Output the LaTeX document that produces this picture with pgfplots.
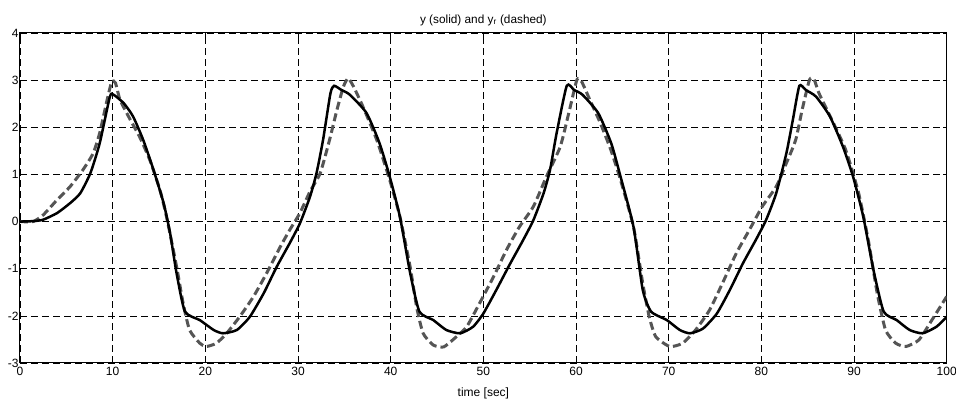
\documentclass[border=0pt]{standalone}
\usepackage{pgfplots}
\pgfplotsset{compat=1.18}
\usepackage{fontspec}
\setmainfont{Liberation Sans}
\definecolor{refgray}{RGB}{85,85,85}
\begin{document}
\begin{tikzpicture}
\begin{axis}[
  scale only axis,
  width=926.7pt, height=330pt,
  xmin=0, xmax=100, ymin=-3, ymax=4,
  xtick={0,10,...,100}, ytick={-3,-2,...,4},
  tick align=inside, major tick length=4pt,
  tick style={black, line width=0.6pt},
  axis line style={black, line width=1pt},
  grid=major,
  major grid style={black, line width=0.7pt, dash pattern=on 7pt off 4pt},
  tick label style={font=\fontsize{12}{13}\selectfont},
  /pgf/number format/assume math mode=true,
  xticklabel style={yshift=-0.5pt},
  yticklabel style={xshift=2pt},
  title={y (solid) and y\textsubscript{r} (dashed)},
  title style={font=\fontsize{11.8}{13}\selectfont, yshift=-2pt},
  xlabel={time [sec]},
  xlabel style={font=\fontsize{12}{13}\selectfont, yshift=-5pt},
  clip=true,
]
\addplot[refgray, line width=3pt, dash pattern=on 8pt off 4pt, smooth, tension=0.35] coordinates {
(0,0) (1.4,0) (2.5,0.14) (4.0,0.46) (5.4,0.74) (6.8,1.10) (7.9,1.45) (8.6,1.88) (9.4,2.58) (9.9,2.97) (10.3,2.94) (10.8,2.58) (11.9,2.16) (12.9,1.80) (14.0,1.31) (15.1,0.67) (15.8,0.11) (16.9,-0.96) (17.6,-1.73) (18.3,-2.30) (19.4,-2.58) (20.1,-2.65) (21.2,-2.58) (22.3,-2.37) (23.7,-2.02) (25.2,-1.59) (26.6,-1.10) (28.1,-0.53) (29.1,-0.18) (30.2,0.18) (31.3,0.64) (32.4,1.03) (33.4,1.73) (34.2,2.37) (34.9,2.86) (35.4,3.04) (36.0,2.86) (37.0,2.44) (38.5,1.73) (39.9,0.88) (41.0,0.10) (42.1,-0.96) (42.8,-1.81) (43.5,-2.37) (44.6,-2.62) (45.7,-2.66) (46.7,-2.51) (48.2,-2.23) (49.6,-1.73) (51.1,-1.17) (52.5,-0.60) (53.9,-0.11) (55.4,0.32) (56.8,0.95) (58.3,1.59) (59.3,2.37) (60.1,3.01) (60.6,2.97) (61.5,2.58) (62.6,2.10) (63.7,1.55) (64.7,0.95) (66.2,-0.11) (67.2,-1.31) (67.9,-2.02) (68.6,-2.44) (70.1,-2.65) (71.5,-2.58) (72.9,-2.30) (74.4,-1.88) (75.8,-1.31) (77.3,-0.67) (78.7,-0.18) (80.1,0.32) (81.6,0.74) (82.7,1.24) (83.7,1.73) (84.4,2.37) (85.2,3.01) (85.7,3.01) (86.2,2.73) (87.6,2.16) (89.1,1.52) (90.5,0.60) (91.6,-0.46) (92.5,-1.52) (93.4,-2.30) (94.5,-2.58) (95.6,-2.65) (97.0,-2.51) (98.4,-2.09) (100,-1.59)
};
\addplot[black, line width=2.5pt, smooth, tension=0.35] coordinates {
(0,0) (1.5,0.01) (2.5,0.04) (4.0,0.18) (5.4,0.39) (6.5,0.6) (7.6,1.03) (8.6,1.66) (9.7,2.65) (10.1,2.69) (11.2,2.51) (12.2,2.23) (13.3,1.73) (14.4,1.10) (15.5,0.39) (16.2,-0.25) (16.9,-1.10) (17.8,-1.91) (19.4,-2.09) (20.9,-2.30) (21.9,-2.37) (23.4,-2.30) (24.8,-2.02) (26.3,-1.52) (27.7,-0.96) (29.1,-0.46) (30.2,-0.04) (31.3,0.53) (32.0,1.03) (32.7,1.73) (33.5,2.72) (33.9,2.88) (34.7,2.79) (35.6,2.69) (37.4,2.30) (38.8,1.66) (39.9,0.95) (41.0,0.10) (42.1,-1.09) (43.1,-1.91) (44.6,-2.09) (46.0,-2.30) (47.5,-2.37) (48.9,-2.23) (50.0,-1.95) (51.4,-1.45) (52.9,-0.89) (54.3,-0.39) (55.4,0.03) (56.5,0.60) (57.2,1.10) (57.9,1.87) (59.0,2.88) (59.8,2.79) (60.7,2.69) (62.4,2.30) (63.8,1.66) (64.7,1.03) (66.2,-0.11) (67.2,-1.45) (68.1,-1.91) (69.8,-2.09) (71.2,-2.30) (72.3,-2.37) (73.7,-2.27) (75.2,-1.95) (76.6,-1.45) (78.0,-0.89) (79.4,-0.39) (80.5,0.03) (81.6,0.60) (82.7,1.45) (83.4,2.16) (84.1,2.88) (84.8,2.79) (85.9,2.65) (87.4,2.23) (88.8,1.59) (89.9,0.95) (91.0,0.10) (92.1,-1.03) (93.2,-1.91) (94.6,-2.09) (96.0,-2.30) (97.4,-2.37) (98.9,-2.23) (100,-2.02)
};
\end{axis}
\pgfresetboundingbox
\path (-20pt,-40pt) rectangle (936pt,363pt);
\end{tikzpicture}
\end{document}
